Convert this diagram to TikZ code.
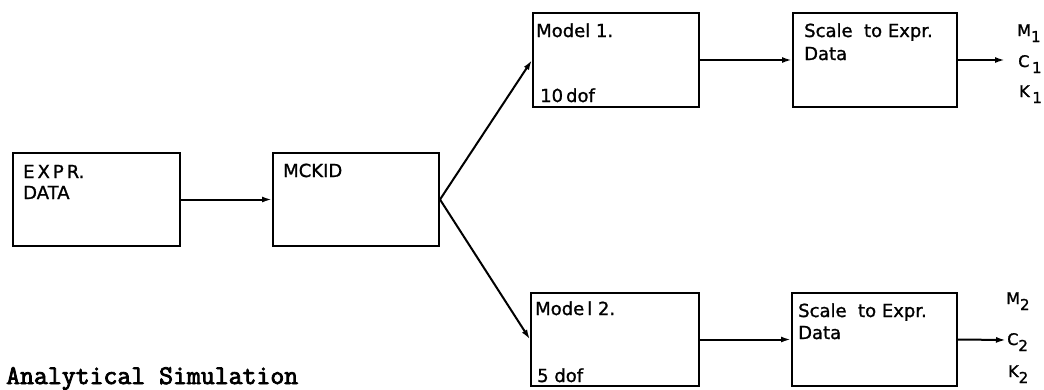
\documentclass[tikz,border=0pt]{standalone}
\usepackage{fontspec}
\setmainfont[FakeBold=1.2]{DejaVu Sans}
\newfontfamily\twfont[FakeBold=3]{Latin Modern Mono}
\usetikzlibrary{arrows.meta}
\newcommand{\sbs}[1]{\raisebox{-6pt}{\fontsize{15}{15}\selectfont #1}}
\tikzset{
  box/.style={draw, line width=2pt, inner sep=0pt, minimum height=93pt},
  txt/.style={anchor=base west, inner sep=0pt, font=\fontsize{18}{20}\selectfont},
  lbl/.style={anchor=base west, inner sep=0pt, font=\fontsize{16}{18}\selectfont},
  conn/.style={line width=2pt, -{Latex[length=10pt,width=6pt]}}
}
\begin{document}
\begin{tikzpicture}[x=1pt,y=-1pt]
\useasboundingbox (0,0) rectangle (1044,389);
% boxes
\node[box, minimum width=167pt] (expr) at (96.5,199.5) {};
\node[box, minimum width=166pt] (mckid) at (356,199.5) {};
\node[box, minimum width=166pt, minimum height=94pt] (m1) at (616,60) {};
\node[box, minimum width=164pt, minimum height=94pt] (s1) at (875,60) {};
\node[box, minimum width=168pt] (m2) at (615,339.5) {};
\node[box, minimum width=165pt] (s2) at (874.5,339.5) {};
% texts
\node[txt] (t1) at (23,178) {E\,X\,P\,R.};
\node[txt] (t2) at (23,199) {DATA};
\node[txt] (t3) at (283,177) {MCKID};
\node[txt] (t4) at (536,37) {Model 1.};
\node[txt] (t5) at (540,102) {10\,dof};
\node[txt] (t6) at (535,315) {Mode\,l 2.};
\node[txt] (t7) at (537,382) {5 dof};
\node[txt] (t8) at (804,37) {Scale\ \ to Expr.};
\node[txt] (t9) at (804,60) {Data};
\node[txt] (t10) at (798,317) {Scale\ \ to Expr.};
\node[txt] (t11) at (798,339) {Data};
% output labels
\node[lbl] (o1) at (1017,36) {M\sbs{1}};
\node[lbl] (o2) at (1018,67) {C\,\sbs{1}};
\node[lbl] (o3) at (1019,97) {K\,\sbs{1}};
\node[lbl] (o4) at (1006,304) {M\sbs{2}};
\node[lbl] (o5) at (1007,345) {C\sbs{2}};
\node[lbl] (o6) at (1008,377) {K\sbs{2}};
\node[anchor=base west, inner sep=0pt, font=\twfont\fontsize{27}{29}\selectfont] (title) at (6,384) {Analytical Simulation};
% connectors
\coordinate (e1) at (1005,60);
\coordinate (e2) at (1006,340);
\draw[conn] (expr.east) -- (mckid.west);
\draw[conn] (mckid.east) -- (m1.west);
\draw[conn] (mckid.east) -- (m2.west);
\draw[conn] (m1.east) -- (s1.west);
\draw[conn] (s1.east) -- (e1);
\draw[conn] (m2.east) -- (s2.west);
\draw[conn] (s2.east) -- (e2);
\end{tikzpicture}
\end{document}
